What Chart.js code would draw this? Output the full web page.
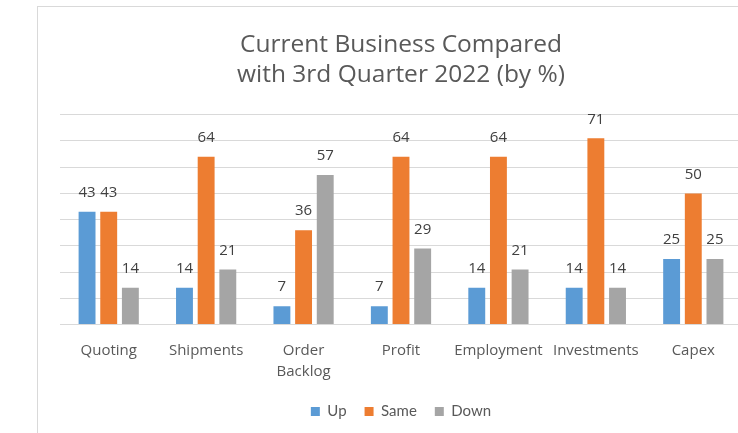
<!DOCTYPE html>
<html>
<head>
<meta charset="utf-8">
<script src="https://cdn.jsdelivr.net/npm/chart.js@4"></script>
<style>
  html, body { margin: 0; padding: 0; width: 738px; height: 433px; overflow: hidden; background: #fff; }
  #frame { position: absolute; left: 37px; top: 6px; width: 724px; height: 440px;
           border-left: 1px solid #d9d9d9; border-top: 1px solid #d9d9d9; }
  #wrap { position: absolute; left: 0; top: 0; width: 724px; height: 426px; }
</style>
</head>
<body>
<div id="frame"><div id="wrap"><canvas id="c"></canvas></div></div>
<script>
const categories = ["Quoting", "Shipments", ["Order", "Backlog"], "Profit", "Employment", "Investments", "Capex"];
const seriesNames = ["Up", "Same", "Down"];
const upValues = [43, 14, 7, 7, 14, 14, 25];
const sameValues = [43, 64, 36, 64, 64, 71, 50];
const downValues = [14, 21, 57, 29, 21, 14, 25];
const titleLines = ["Current Business Compared", "with 3rd Quarter 2022 (by %)"];
const FONT = "'Open Sans', Lato, sans-serif";
const LFONT = "Lato, 'Open Sans', sans-serif";

const valueLabels = {
  id: 'valueLabels',
  afterDatasetsDraw(chart) {
    const ctx = chart.ctx;
    ctx.save();
    ctx.font = "15px " + FONT;
    ctx.fillStyle = "#404040";
    ctx.textAlign = "center";
    ctx.textBaseline = "middle";
    chart.data.datasets.forEach((ds, i) => {
      const meta = chart.getDatasetMeta(i);
      meta.data.forEach((bar, j) => {
        ctx.fillText(String(ds.data[j]), bar.x, bar.y - 19);
      });
    });
    ctx.restore();
  }
};

new Chart(document.getElementById('c'), {
  type: 'bar',
  data: {
    labels: categories,
    datasets: [
      { label: seriesNames[0], data: upValues, backgroundColor: '#5B9BD5' },
      { label: seriesNames[1], data: sameValues, backgroundColor: '#ED7D31' },
      { label: seriesNames[2], data: downValues, backgroundColor: '#A5A5A5' }
    ]
  },
  options: {
    responsive: true,
    maintainAspectRatio: false,
    animation: false,
    datasets: { bar: { categoryPercentage: 0.667, barPercentage: 0.78 } },
    layout: { padding: { left: 22, right: 20, top: 0, bottom: 4 } },
    scales: {
      x: {
        grid: { display: false },
        border: { display: false },
        ticks: { color: '#595959', font: { family: FONT, size: 15, lineHeight: 1.45 }, padding: 7, maxRotation: 0, autoSkip: false },
        afterFit(scale) { scale.height -= 4; }
      },
      y: {
        min: 0, max: 80,
        ticks: { display: false, stepSize: 10 },
        grid: { color: '#d9d9d9', lineWidth: 1, drawTicks: false },
        border: { display: false }
      }
    },
    plugins: {
      title: {
        display: true,
        text: titleLines,
        color: '#595959',
        font: { family: FONT, size: 24.5, weight: 'normal', lineHeight: 1.22 },
        padding: { top: 23, bottom: 25 }
      },
      legend: {
        position: 'bottom',
        labels: { color: '#595959', font: { family: LFONT, size: 15 }, boxWidth: 9, boxHeight: 9, padding: 18 }
      },
      tooltip: { enabled: false }
    }
  },
  plugins: [valueLabels]
});
</script>
</body>
</html>
